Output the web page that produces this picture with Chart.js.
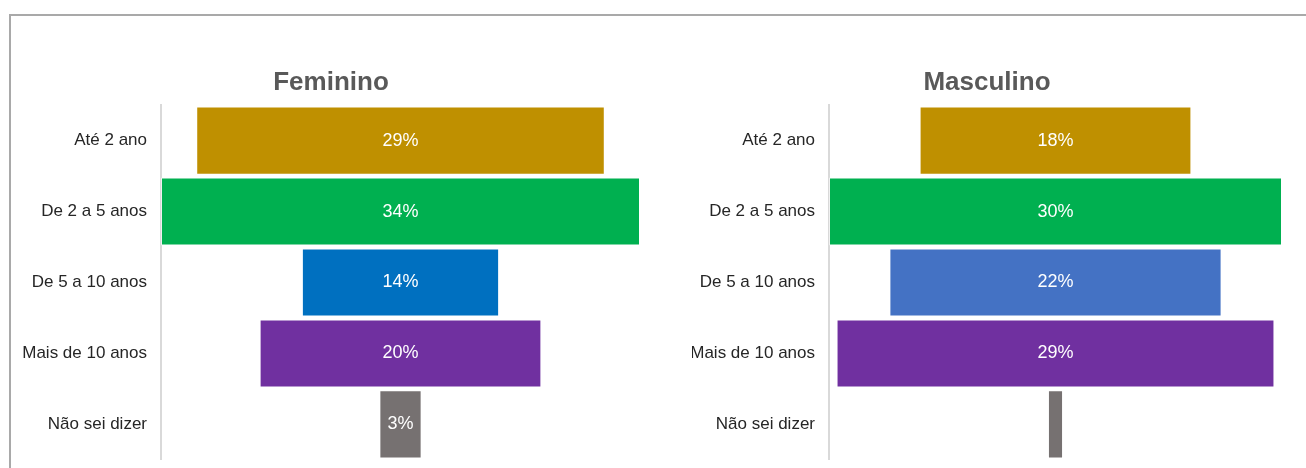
<!DOCTYPE html>
<html>
<head>
<meta charset="utf-8">
<script src="https://cdn.jsdelivr.net/npm/chart.js@4.4.1/dist/chart.umd.min.js"></script>
<style>
  html, body { margin: 0; padding: 0; background: #fff; }
  body { width: 1306px; height: 468px; position: relative; overflow: hidden; }
  #frame { position: absolute; left: 9px; top: 14px; width: 1310px; height: 470px;
           border-top: 2px solid #a9a9a9; border-left: 2px solid #a9a9a9; }
  canvas { position: absolute; top: 50px; }
  #chartF { left: 12px; }
  #chartM { left: 668px; }
</style>
</head>
<body>
<div id="frame"></div>
<canvas id="chartF" width="638" height="426"></canvas>
<canvas id="chartM" width="638" height="426"></canvas>
<script>
var categories = ["Até 2 ano", "De 2 a 5 anos", "De 5 a 10 anos", "Mais de 10 anos", "Não sei dizer"];
var femininoValues = [29, 34, 14, 20, 3];
var masculinoValues = [18, 30, 22, 29, 1];
var femininoColors = ["#bf9000", "#00b050", "#0070c0", "#7030a0", "#767171"];
var masculinoColors = ["#bf9000", "#00b050", "#4472c4", "#7030a0", "#767171"];

Chart.defaults.font.family = "'Liberation Sans', Arial, sans-serif";

// percentage written in the middle of each funnel bar (skipped when the bar is too thin)
var barLabels = {
    id: 'barLabels',
    afterDatasetsDraw: function (chart) {
        var ctx = chart.ctx;
        var values = chart.data.datasets[0].values;
        ctx.save();
        ctx.fillStyle = '#ffffff';
        ctx.font = '18px "Liberation Sans", Arial, sans-serif';
        ctx.textAlign = 'center';
        ctx.textBaseline = 'middle';
        chart.getDatasetMeta(0).data.forEach(function (bar, i) {
            if (values[i] < 2) return;
            ctx.fillText(values[i] + '%', (bar.x + bar.base) / 2, bar.y);
        });
        ctx.restore();
    }
};

function funnel(canvasId, title, values, colors, half, yWidth, pad) {
    // each bar is centred on zero, so it spans -v/2 .. v/2
    var ranges = values.map(function (v) { return [-v / 2, v / 2]; });
    return new Chart(document.getElementById(canvasId), {
        type: 'bar',
        data: {
            labels: categories,
            datasets: [{
                data: ranges,
                values: values,
                backgroundColor: colors,
                borderColor: 'rgba(255,255,255,0.6)',
                borderWidth: 1,
                borderSkipped: false,
                barPercentage: 0.96,
                categoryPercentage: 1
            }]
        },
        options: {
            indexAxis: 'y',
            responsive: false,
            animation: false,
            layout: { padding: { left: pad, right: pad, top: 0, bottom: 0 } },
            plugins: {
                legend: { display: false },
                tooltip: { enabled: false },
                title: {
                    display: true,
                    text: title,
                    color: '#595959',
                    font: { size: 26, weight: 'bold' },
                    padding: { top: 17, bottom: 7 }
                }
            },
            scales: {
                x: { display: false, min: -half, max: half },
                y: {
                    afterFit: function (scale) { scale.width = yWidth; },
                    grid: { display: false },
                    border: { display: true, color: '#d9d9d9', width: 2 },
                    ticks: { color: '#262626', font: { size: 17 }, padding: 6 }
                }
            }
        },
        plugins: [barLabels]
    });
}

funnel('chartF', 'Feminino', femininoValues, femininoColors, 17, 139, 10);
funnel('chartM', 'Masculino', masculinoValues, masculinoColors, 15, 137, 24);
</script>
</body>
</html>
